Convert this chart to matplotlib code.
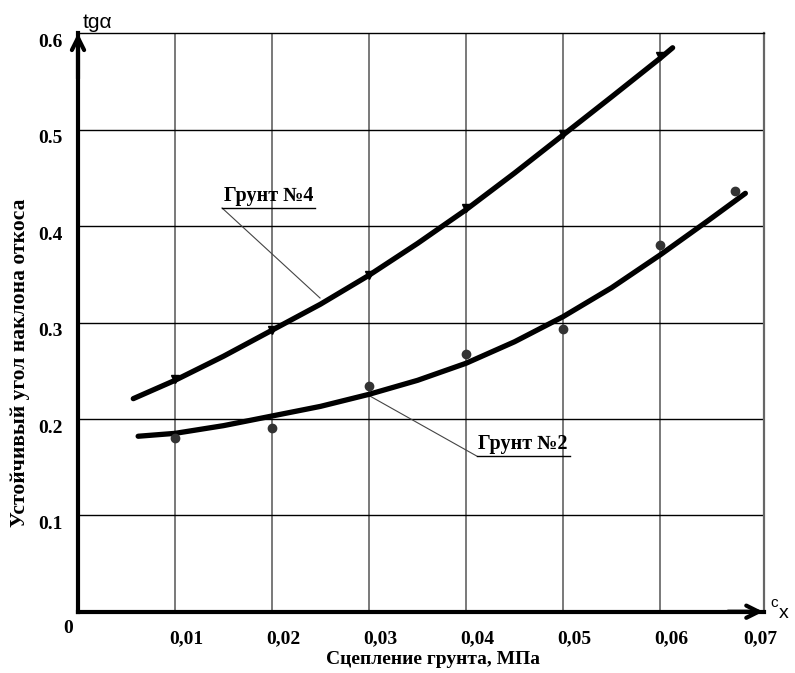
import matplotlib
matplotlib.use("Agg")
import matplotlib.pyplot as plt

# measured points, soil No.4 and soil No.2
c_points = [0.01, 0.02, 0.03, 0.04, 0.05, 0.06]
tg_soil4 = [0.241, 0.292, 0.349, 0.419, 0.496, 0.576]
c_points2 = [0.01, 0.02, 0.03, 0.04, 0.05, 0.06, 0.0677]
tg_soil2 = [0.180, 0.191, 0.234, 0.267, 0.293, 0.380, 0.436]

# trend curves
c_curve4 = [0.0057, 0.01, 0.015, 0.02, 0.025, 0.03, 0.035, 0.04, 0.045, 0.05, 0.055, 0.06, 0.0613]
tg_curve4 = [0.221, 0.240, 0.265, 0.292, 0.319, 0.349, 0.382, 0.417, 0.455, 0.4945, 0.534, 0.574, 0.585]
c_curve2 = [0.0062, 0.01, 0.015, 0.02, 0.025, 0.03, 0.035, 0.04, 0.045, 0.05, 0.055, 0.06, 0.065, 0.0688]
tg_curve2 = [0.182, 0.185, 0.193, 0.203, 0.213, 0.2255, 0.240, 0.2577, 0.280, 0.306, 0.336, 0.370, 0.406, 0.434]

x_ticks = [0.01, 0.02, 0.03, 0.04, 0.05, 0.06, 0.07]
x_labels = ["0,01", "0,02", "0,03", "0,04", "0,05", "0,06", "0,07"]
y_ticks = [0.1, 0.2, 0.3, 0.4, 0.5, 0.6]
y_labels = ["0.1", "0.2", "0.3", "0.4", "0.5", "0.6"]

W, H = 795, 673
fig = plt.figure(figsize=(W / 100, H / 100), dpi=100)
ax = fig.add_axes([78 / W, 1 - 611.7 / H, (764 - 78) / W, (611.7 - 33.3) / H])
xmax = 0.07072
ax.set_xlim(0, xmax)
ax.set_ylim(0, 0.6)
ax.set_xticks([])
ax.set_yticks([])

serif = "Liberation Serif"

# grid
for x in x_ticks[:-1]:
    ax.axvline(x, color="#555555", lw=1.1, zorder=1)
for y in y_ticks[:-1]:
    ax.axhline(y, color="black", lw=1.0, zorder=1)

ax.spines["top"].set_linewidth(1.0)
ax.spines["right"].set_color("#666666")
ax.spines["right"].set_linewidth(1.6)
ax.spines["left"].set_linewidth(3)
ax.spines["bottom"].set_linewidth(3)

# axis arrows
ax.annotate("", xy=(0, 0.603), xytext=(0, 0.55),
            arrowprops=dict(arrowstyle="->", lw=3, mutation_scale=22),
            annotation_clip=False)
ax.annotate("", xy=(xmax + 0.0002, 0), xytext=(xmax - 0.004, 0),
            arrowprops=dict(arrowstyle="->", lw=3, mutation_scale=22),
            annotation_clip=False)

# curves and points
ax.plot(c_curve4, tg_curve4, color="black", lw=3.8, solid_capstyle="round", zorder=3)
ax.plot(c_curve2, tg_curve2, color="black", lw=3.8, solid_capstyle="round", zorder=3)
ax.plot(c_points, tg_soil4, "v", color="black", ms=6, zorder=4)
ax.plot(c_points2, tg_soil2, "o", color="#333333", ms=6, zorder=4)

# callouts
ax.plot([0.01485, 0.02495], [0.4188, 0.3254], color="#444444", lw=0.8, zorder=2)
ax.plot([0.01485, 0.02443], [0.4188, 0.4188], color="black", lw=1.0, zorder=2)
ax.text(0.0150, 0.4205, "Грунт №4", family=serif, weight="bold", fontsize=14.5,
        ha="left", va="bottom")
ax.plot([0.0299, 0.0411], [0.2248, 0.1615], color="#444444", lw=0.8, zorder=2)
ax.plot([0.0411, 0.0507], [0.1615, 0.1615], color="black", lw=1.0, zorder=2)
ax.text(0.0412, 0.1632, "Грунт №2", family=serif, weight="bold", fontsize=14.5,
        ha="left", va="bottom")

# tick labels
for x, lab in zip(x_ticks, x_labels):
    ax.text(min(x + 0.0012, 0.0703), -0.028, lab, family=serif, weight="bold",
            fontsize=14, ha="center", va="center", clip_on=False)
for y, lab in zip(y_ticks, y_labels):
    ax.text(-0.0016, y - 0.0095, lab, family=serif, weight="bold",
            fontsize=14, ha="right", va="center", clip_on=False)
ax.text(-0.001, -0.017, "0", family=serif, weight="bold", fontsize=14,
        ha="center", va="center", clip_on=False)

# axis names
ax.text(0.0005, 0.6107, "tgα", fontsize=15, ha="left", va="center",
        family="Liberation Sans", clip_on=False)
fig.text(770 / W, 1 - 603 / H, "c", fontsize=11, ha="left", va="center",
         family="Liberation Sans")
fig.text(779 / W, 1 - 613 / H, "x", fontsize=14, ha="left", va="center",
         family="Liberation Sans")
fig.text(433 / W, 1 - 659 / H, "Сцепление грунта, МПа", family=serif,
         weight="bold", fontsize=14, ha="center", va="center")
fig.text(20 / W, 1 - 363 / H, "Устойчивый угол наклона откоса", family=serif,
         weight="bold", fontsize=15.5, ha="center", va="center", rotation=90)

fig.savefig("out.png", dpi=100)
